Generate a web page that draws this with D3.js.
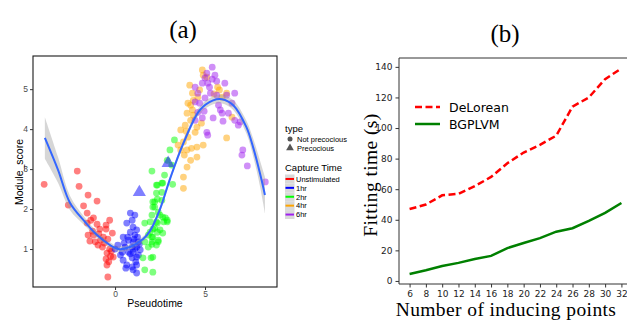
<!DOCTYPE html>
<html>
<head>
<meta charset="utf-8">
<script src="https://cdn.jsdelivr.net/npm/d3@7/dist/d3.min.js"></script>
<style>
  body { margin: 0; background: #fff; }
  svg { display: block; }
</style>
</head>
<body>
<div id="chart"></div>
<script>
// ---- panel (a) data: pseudotime vs module score ----
const groups = ['Unstimulated', '1hr', '2hr', '4hr', '6hr'];
const groupColors = ['#ff0000', '#0000ff', '#00ff00', '#ffa500', '#a020f0'];

const unstimPts = [
  [-3.94, 2.62], [-2.1, 2.95], [-2.0, 2.57], [-2.6, 2.1], [-1.5, 2.35], [-1.75, 2.08],
  [-1.0, 2.2], [-1.55, 1.9], [-1.35, 1.72], [-1.2, 1.78], [-1.55, 1.65], [-1.0, 1.62],
  [-0.85, 1.5], [-0.3, 1.72], [-0.5, 1.6], [-1.5, 1.35], [-1.2, 1.35], [-0.9, 1.38],
  [-0.5, 1.5], [-0.65, 1.3], [-1.1, 1.18], [-1.4, 1.2], [-0.8, 1.22], [-0.6, 1.15],
  [-0.4, 1.25], [-0.3, 1.0], [-0.45, 0.9], [-0.25, 0.82], [-0.5, 0.75], [-0.35, 0.68],
  [-0.45, 0.6], [-0.1, 0.8], [-0.4, 0.3], [-0.7, 1.05], [-1.25, 1.45], [-0.15, 1.4],
  [-0.95, 1.1], [-0.2, 0.95]
];
const hr1Pts = [
  [0.85, 1.9], [1.1, 1.85], [0.95, 1.72], [0.65, 1.65], [1.0, 1.55], [1.2, 1.48],
  [0.85, 1.42], [1.1, 1.35], [0.45, 1.3], [0.75, 1.22], [1.0, 1.18], [1.3, 1.18],
  [0.15, 1.1], [0.55, 1.05], [0.95, 1.05], [1.2, 1.05], [0.4, 0.92], [0.75, 0.92],
  [1.0, 0.92], [1.4, 0.98], [0.45, 0.72], [0.95, 0.78], [1.2, 0.8], [0.65, 0.6],
  [0.95, 0.55], [1.2, 0.6], [0.6, 0.52], [1.0, 0.48], [1.2, 0.4], [0.0, 1.0],
  [1.25, 1.3], [1.35, 1.12], [1.1, 1.0], [0.3, 0.85], [0.85, 0.88], [1.15, 0.68],
  [0.7, 1.3], [1.05, 1.25], [0.5, 1.15], [1.3, 0.85]
];
const hr2Pts = [
  [2.35, 2.6], [2.2, 2.18], [2.1, 2.05], [2.4, 1.92], [1.65, 1.65], [1.95, 1.68],
  [2.2, 1.52], [2.5, 1.48], [1.85, 1.35], [1.65, 1.18], [2.05, 1.18], [2.4, 1.18],
  [1.85, 1.05], [1.55, 0.78], [1.65, 0.48], [2.05, 2.95], [2.3, 2.6], [2.65, 2.65],
  [3.2, 2.62], [2.3, 2.4], [2.6, 2.42], [2.1, 2.18], [2.6, 2.22], [2.2, 2.05],
  [2.05, 1.85], [2.5, 1.85], [2.8, 1.78], [2.3, 1.68], [2.9, 1.68], [2.1, 1.5],
  [2.35, 1.42], [2.65, 1.4], [2.1, 1.3], [2.4, 1.22], [2.05, 1.12], [2.3, 1.1],
  [2.1, 0.8], [2.1, 0.42], [3.3, 3.73], [3.05, 3.48], [2.9, 3.22], [3.15, 3.1],
  [2.75, 2.85], [2.6, 2.65], [2.35, 2.25], [2.65, 1.8], [2.35, 1.65], [1.95, 1.42],
  [2.7, 1.68], [2.9, 1.72], [2.05, 1.3], [2.0, 0.78]
];
const hr4Pts = [
  [3.8, 2.8], [3.8, 2.52], [4.0, 3.05], [4.2, 3.22], [4.55, 3.3], [3.65, 3.48],
  [3.5, 3.6], [4.0, 3.48], [4.25, 3.52], [3.8, 3.68], [4.05, 3.8], [4.9, 3.6],
  [3.65, 3.98], [3.9, 4.1], [4.2, 4.22], [4.45, 3.92], [4.55, 4.05], [4.8, 4.15],
  [4.0, 4.4], [4.3, 4.48], [4.05, 4.65], [4.35, 4.72], [4.3, 4.9], [4.15, 5.1],
  [4.7, 4.98], [4.6, 4.8], [4.9, 5.35], [4.85, 5.48], [5.1, 5.3], [5.7, 5.05],
  [5.8, 4.98], [5.95, 4.8], [6.2, 4.9], [6.2, 3.78], [6.5, 4.3], [4.35, 4.35],
  [3.95, 3.95], [4.55, 3.55], [3.85, 3.35], [5.5, 4.88], [4.2, 4.6]
];
const hr6Pts = [
  [5.4, 5.55], [5.1, 5.4], [5.55, 5.35], [5.0, 5.28], [5.4, 5.25], [5.15, 5.15],
  [5.65, 5.2], [6.1, 5.15], [4.85, 5.15], [4.45, 5.05], [4.6, 4.9], [5.3, 4.9],
  [5.65, 4.85], [6.2, 4.85], [6.65, 4.9], [5.0, 4.78], [4.45, 4.68], [4.6, 4.42],
  [4.85, 4.28], [4.45, 4.22], [5.85, 4.48], [5.95, 4.4], [5.45, 4.28], [6.3, 4.4],
  [6.5, 4.65], [6.65, 4.22], [6.95, 4.18], [6.85, 4.1], [5.1, 3.92], [5.15, 3.85],
  [7.1, 3.48], [7.05, 3.35], [7.35, 3.08], [8.35, 2.68], [4.7, 4.65], [5.25, 5.05],
  [5.75, 4.6], [4.95, 4.45], [6.0, 4.2]
];
const groupPts = [unstimPts, hr1Pts, hr2Pts, hr4Pts, hr6Pts];

// precocious cells (both from the 1hr capture)
const precociousPts = [[1.35, 2.42], [2.95, 3.15]];

// smoothed fit: pseudotime, fit, half band width
const fitT  = [-3.9, -3.17, -2.5, -1.67, -1.0, -0.28, 0.17, 0.83, 1.56, 1.94, 2.5, 3.05, 3.8, 4.72, 5.45, 5.94, 6.57, 7.3, 7.67, 8.05, 8.33];
const fitY  = [3.78, 2.98, 2.15, 1.68, 1.35, 1.1, 1.0, 1.05, 1.25, 1.45, 2.0, 2.75, 3.65, 4.48, 4.72, 4.75, 4.6, 4.05, 3.55, 2.9, 2.35];
const fitSe = [0.52, 0.32, 0.18, 0.1, 0.08, 0.07, 0.07, 0.07, 0.07, 0.07, 0.07, 0.07, 0.08, 0.09, 0.1, 0.11, 0.12, 0.16, 0.22, 0.32, 0.45];

const ticksA_x = [0, 5];
const ticksA_y = [1, 2, 3, 4, 5];

// ---- panel (b) data: fitting time ----
const inducing = [6, 8, 10, 12, 14, 16, 18, 20, 22, 24, 26, 28, 30, 32];
const delorean = [47, 50, 56, 57, 62, 68, 77, 84, 89, 95, 114, 120, 132, 139];
const bgplvm   = [4.6, 7, 9.8, 11.8, 14.4, 16.4, 21.5, 24.8, 28, 32.2, 34.5, 39.3, 44.5, 51];
const ticksB_y = [0, 20, 40, 60, 80, 100, 120, 140];

const W = 627, H = 322;
const svg = d3.select('#chart').append('svg')
  .attr('width', W)
  .attr('height', H);

const serif = '"Liberation Serif", "DejaVu Serif", serif';
const sans = '"Liberation Sans", Arial, sans-serif';

svg.append('text').text('(a)')
  .attr('x', 183).attr('y', 38)
  .attr('text-anchor', 'middle')
  .attr('font-family', serif).attr('font-size', 25);

svg.append('text').text('(b)')
  .attr('x', 505).attr('y', 42)
  .attr('text-anchor', 'middle')
  .attr('font-family', serif).attr('font-size', 25);

// ================= panel (a) =================
const xA = d3.scaleLinear().domain([-4.56, 9.0]).range([33, 277]);
const yA = d3.scaleLinear().domain([0.05, 5.83]).range([287, 56]);

const gA = svg.append('g');

gA.append('rect')
  .attr('x', 33).attr('y', 56)
  .attr('width', 244).attr('height', 231)
  .attr('fill', '#fff');

groupPts.forEach(function (pts, i) {
  gA.append('g').selectAll('circle')
    .data(pts)
    .enter()
    .append('circle')
    .attr('cx', d => xA(d[0]))
    .attr('cy', d => yA(d[1]))
    .attr('r', 3.4)
    .attr('fill', groupColors[i])
    .attr('fill-opacity', 0.5);
});

const tri = d3.symbol().type(d3.symbolTriangle).size(75);
gA.append('g').selectAll('path')
  .data(precociousPts)
  .enter()
  .append('path')
  .attr('d', tri)
  .attr('transform', d => 'translate(' + xA(d[0]) + ',' + yA(d[1]) + ')')
  .attr('fill', groupColors[1])
  .attr('fill-opacity', 0.5);

const fit = fitT.map((t, i) => ({ t: t, y: fitY[i], se: fitSe[i] }));

const band = d3.area()
  .x(d => xA(d.t))
  .y0(d => yA(d.y - d.se))
  .y1(d => yA(d.y + d.se))
  .curve(d3.curveCatmullRom);

gA.append('path')
  .datum(fit)
  .attr('d', band)
  .attr('fill', '#999')
  .attr('fill-opacity', 0.4);

const fitLine = d3.line()
  .x(d => xA(d.t))
  .y(d => yA(d.y))
  .curve(d3.curveCatmullRom);

gA.append('path')
  .datum(fit)
  .attr('d', fitLine)
  .attr('fill', 'none')
  .attr('stroke', '#3366ff')
  .attr('stroke-width', 2);

gA.append('rect')
  .attr('x', 33).attr('y', 56)
  .attr('width', 244).attr('height', 231)
  .attr('fill', 'none')
  .attr('stroke', '#1a1a1a')
  .attr('stroke-width', 1.1);

const axAx = gA.append('g')
  .attr('transform', 'translate(0,287)')
  .call(d3.axisBottom(xA).tickValues(ticksA_x).tickFormat(d3.format('d')).tickSize(3).tickPadding(1));
const axAy = gA.append('g')
  .attr('transform', 'translate(33,0)')
  .call(d3.axisLeft(yA).tickValues(ticksA_y).tickFormat(d3.format('d')).tickSize(3).tickPadding(2));
[axAx, axAy].forEach(function (ax) {
  ax.select('.domain').remove();
  ax.selectAll('line').attr('stroke', '#333');
  ax.selectAll('text')
    .attr('fill', '#4d4d4d')
    .attr('font-family', sans)
    .attr('font-size', 8.5);
});

gA.append('text').text('Pseudotime')
  .attr('x', 155).attr('y', 307)
  .attr('text-anchor', 'middle')
  .attr('font-family', sans).attr('font-size', 10.5);

gA.append('text').text('Module_score')
  .attr('transform', 'translate(23,172) rotate(-90)')
  .attr('text-anchor', 'middle')
  .attr('font-family', sans).attr('font-size', 10.5);

// legend (a)
const lg = gA.append('g').attr('transform', 'translate(285,0)');
lg.append('text').text('type')
  .attr('x', 0).attr('y', 132)
  .attr('font-family', sans).attr('font-size', 9.5);
lg.append('circle')
  .attr('cx', 5).attr('cy', 139).attr('r', 2.5)
  .attr('fill', '#555');
lg.append('path')
  .attr('d', d3.symbol().type(d3.symbolTriangle).size(26))
  .attr('transform', 'translate(5,148)')
  .attr('fill', '#555');
lg.append('text').text('Not precocious')
  .attr('x', 12).attr('y', 142)
  .attr('font-family', sans).attr('font-size', 7.5);
lg.append('text').text('Precocious')
  .attr('x', 12).attr('y', 151)
  .attr('font-family', sans).attr('font-size', 7.5);

lg.append('text').text('Capture Time')
  .attr('x', 0).attr('y', 171)
  .attr('font-family', sans).attr('font-size', 9.5);

const keyY = d3.scaleBand().domain(groups).range([174.5, 219]);
groups.forEach(function (g, i) {
  const y = keyY(g);
  lg.append('rect')
    .attr('x', 0).attr('y', y)
    .attr('width', 9.5).attr('height', keyY.bandwidth())
    .attr('fill', '#d9d9d9');
  lg.append('line')
    .attr('x1', 0.5).attr('x2', 9)
    .attr('y1', y + keyY.bandwidth() / 2).attr('y2', y + keyY.bandwidth() / 2)
    .attr('stroke', groupColors[i])
    .attr('stroke-width', 2);
  lg.append('text').text(g)
    .attr('x', 11).attr('y', y + keyY.bandwidth() / 2 + 2.8)
    .attr('font-family', sans).attr('font-size', 7.5);
});

// ================= panel (b) =================
const xB = d3.scaleLinear().domain([4.7, 33.3]).range([399, 632]);
const yB = d3.scaleLinear().domain([-2, 145.8]).range([284, 58]);

const gB = svg.append('g');

const lineB = d3.line()
  .x((d, i) => xB(inducing[i]))
  .y(d => yB(d));

gB.append('path')
  .datum(bgplvm)
  .attr('d', lineB)
  .attr('fill', 'none')
  .attr('stroke', '#008000')
  .attr('stroke-width', 2.5);

gB.append('path')
  .datum(delorean)
  .attr('d', lineB)
  .attr('fill', 'none')
  .attr('stroke', '#ff0000')
  .attr('stroke-width', 2.5)
  .attr('stroke-dasharray', '7,3.5');

gB.append('path')
  .attr('d', 'M399,284V58H632')
  .attr('fill', 'none')
  .attr('stroke', '#333')
  .attr('stroke-width', 1);
gB.append('line')
  .attr('x1', 399).attr('x2', 632)
  .attr('y1', 284).attr('y2', 284)
  .attr('stroke', '#333');

const axBx = gB.append('g')
  .attr('transform', 'translate(0,284)')
  .call(d3.axisBottom(xB).tickValues(inducing).tickSize(3.5).tickPadding(3));
const axBy = gB.append('g')
  .attr('transform', 'translate(399,0)')
  .call(d3.axisLeft(yB).tickValues(ticksB_y).tickSize(3.5).tickPadding(3));
[axBx, axBy].forEach(function (ax) {
  ax.select('.domain').remove();
  ax.selectAll('line').attr('stroke', '#333');
  ax.selectAll('text')
    .attr('fill', '#222')
    .attr('font-family', '"DejaVu Sans", sans-serif')
    .attr('font-size', 9);
});

gB.append('text').text('Number of inducing points')
  .attr('x', 506).attr('y', 316)
  .attr('text-anchor', 'middle')
  .attr('font-family', serif).attr('font-size', 19.5)
  .attr('letter-spacing', 0.4);

gB.append('text').text('Fitting time (s)')
  .attr('transform', 'translate(377,175) rotate(-90)')
  .attr('text-anchor', 'middle')
  .attr('font-family', serif).attr('font-size', 19.5)
  .attr('letter-spacing', 0.4);

// legend (b)
const legB = [
  { name: 'DeLorean', color: '#ff0000', dash: '7,3.5', y: 107 },
  { name: 'BGPLVM', color: '#008000', dash: null, y: 124 }
];
legB.forEach(function (d) {
  gB.append('line')
    .attr('x1', 415).attr('x2', 440)
    .attr('y1', d.y).attr('y2', d.y)
    .attr('stroke', d.color)
    .attr('stroke-width', 2.5)
    .attr('stroke-dasharray', d.dash);
  gB.append('text').text(d.name)
    .attr('x', 449).attr('y', d.y + 4.5)
    .attr('font-family', '"DejaVu Sans", sans-serif')
    .attr('font-size', 12.5);
});
</script>
</body>
</html>
